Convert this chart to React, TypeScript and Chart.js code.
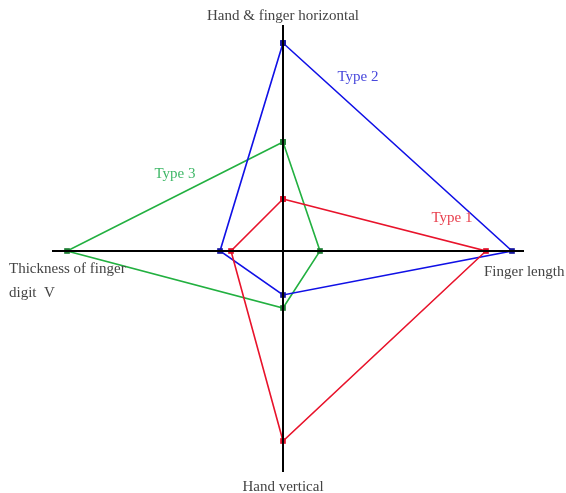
import React, { useEffect, useRef } from "react";
import { Chart, registerables } from "chart.js";

Chart.register(...registerables);

// Axis order: up, right, down, left
const axisNames = ["Hand & finger horizontal", "Finger length", "Hand vertical", "Thickness of finger|digit  V"];
const axisExtent = [226, 241, 221, 231];
const seriesNames = ["Type 1", "Type 2", "Type 3"];
const type1 = [52, 203, 190, 52];
const type2 = [208, 229, 44, 63];
const type3 = [109, 37, 57, 216];
const seriesColors = ["#e8132b", "#1010e6", "#22b040"];
const markerColors = ["#e0102a", "#1414a0", "#1e7e34"];
const labelColors = ["#e8404e", "#4848dc", "#40b868"];

const toXY = (vals: number[]) => [
  { x: 0, y: vals[0] },
  { x: vals[1], y: 0 },
  { x: 0, y: -vals[2] },
  { x: -vals[3], y: 0 },
];

export default function App() {
  const ref = useRef<HTMLCanvasElement>(null);
  useEffect(() => {
    document.body.style.margin = "0";
    const ctx = ref.current!;
    const series = [type1, type2, type3];
    const datasets: any[] = [
      {
        data: [{ x: 0, y: axisExtent[0] }, { x: 0, y: -axisExtent[2] }],
        showLine: true, borderColor: "#000", borderWidth: 2, pointRadius: 0,
      },
      {
        data: [{ x: -axisExtent[3], y: 0 }, { x: axisExtent[1], y: 0 }],
        showLine: true, borderColor: "#000", borderWidth: 2, pointRadius: 0,
      },
    ];
    series.forEach((s, i) => {
      const pts = toXY(s);
      datasets.push({
        label: seriesNames[i],
        data: [...pts, pts[0]],
        showLine: true,
        borderColor: seriesColors[i],
        backgroundColor: markerColors[i],
        pointBackgroundColor: markerColors[i],
        borderWidth: 1.6,
        pointStyle: "rect",
        pointRadius: 4,
        pointBorderWidth: 0,
        clip: false,
      });
    });
    const labelPlugin = {
      id: "labels",
      afterDatasetsDraw(chart: any) {
        const c = chart.ctx;
        const xs = chart.scales.x;
        const ys = chart.scales.y;
        const px = (v: number) => xs.getPixelForValue(v);
        const py = (v: number) => ys.getPixelForValue(v);
        c.save();
        c.font = "15px 'Liberation Serif'";
        c.textBaseline = "middle";
        c.fillStyle = "#444";
        c.textAlign = "center";
        c.fillText(axisNames[0], px(0), py(axisExtent[0]) - 9);
        c.fillText(axisNames[2], px(0), py(-axisExtent[2]) + 15);
        c.textAlign = "left";
        c.fillText(axisNames[1], px(axisExtent[1]) - 40, py(0) + 21);
        const lines = axisNames[3].split("|");
        lines.forEach((l, k) => c.fillText(l, px(-axisExtent[3]) - 43, py(0) + 18 + k * 24));
        // series labels
        const labelPos = [
          { x: 169, y: 33 },
          { x: 75, y: 174 },
          { x: -108, y: 77 },
        ];
        c.textAlign = "center";
        labelPos.forEach((p, i) => {
          c.fillStyle = labelColors[i];
          c.fillText(seriesNames[i], px(p.x), py(p.y));
        });
        c.restore();
      },
    };
    const chart = new Chart(ctx, {
      type: "scatter",
      data: { datasets },
      options: {
        responsive: false,
        animation: false,
        devicePixelRatio: 1,
        layout: { padding: 0, autoPadding: false },
        plugins: { legend: { display: false }, tooltip: { enabled: false } },
        scales: {
          x: { type: "linear", min: -283, max: 283, display: false },
          y: { type: "linear", min: -242, max: 251, display: false },
        },
      },
      plugins: [labelPlugin],
    });
    return () => chart.destroy();
  }, []);
  return <canvas ref={ref} width={566} height={493} style={{ display: "block" }} />;
}
